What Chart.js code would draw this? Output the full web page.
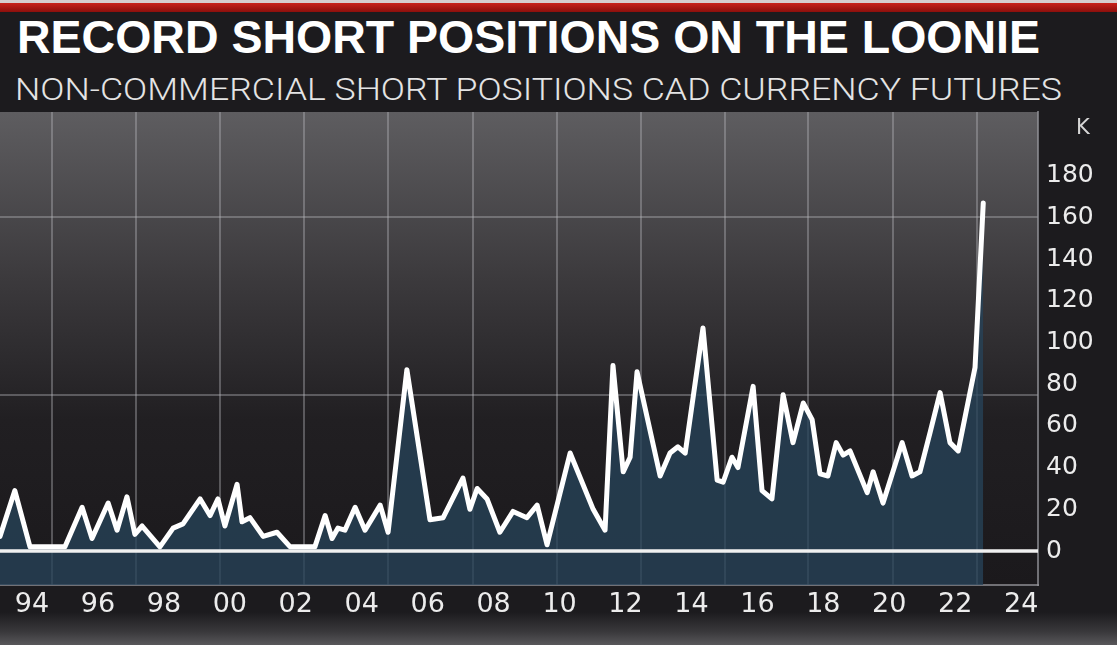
<!DOCTYPE html>
<html><head><meta charset="utf-8">
<script src="https://cdn.jsdelivr.net/npm/chart.js@4.4.1/dist/chart.umd.min.js"></script>
<style>
html,body{margin:0;padding:0;background:#1c1b1e;width:1117px;height:645px;overflow:hidden;}
#wrap{position:relative;width:1117px;height:645px;background:linear-gradient(to bottom,#1c1b1e 0,#1c1b1e 612px,#3a393c 632px,#58575a 645px);}
#topbar{position:absolute;left:0;top:0;width:1117px;height:4px;background:#d6cfcf;}
#redbar{position:absolute;left:0;top:3px;width:1117px;height:9px;background:linear-gradient(to bottom,#c9231b,#8c0f0c);}
#title{position:absolute;left:17px;top:13px;font-family:"Liberation Sans",Arial,sans-serif;font-weight:bold;font-size:47px;line-height:1;color:#fff;white-space:nowrap;transform-origin:0 0;}
#subtitle{position:absolute;left:15px;top:74px;font-family:Roboto,"Liberation Sans",sans-serif;font-weight:300;font-size:31px;line-height:1;color:#e4e4e4;white-space:nowrap;transform-origin:0 0;}
#k{position:absolute;left:1076px;top:117px;font-family:"DejaVu Sans",sans-serif;font-size:21px;line-height:1;color:#d6d6d6;z-index:2;}
canvas{position:absolute;left:0;top:0;z-index:1;}
</style>
</head>
<body>
<div id="wrap">
  <div id="topbar"></div>
  <div id="redbar"></div>
  <span id="title">RECORD SHORT POSITIONS ON THE LOONIE</span>
  <span id="subtitle">NON-COMMERCIAL SHORT POSITIONS CAD CURRENCY FUTURES</span>
  <canvas id="c" width="1117" height="645"></canvas>
  <span id="k">K</span>
</div>
<script>
// ---- data ----
const years = [1993.03,1993.48,1993.94,1995.00,1995.52,1995.82,1996.31,1996.58,1996.88,1997.12,1997.34,1997.88,
  1998.28,1998.58,1999.10,1999.40,1999.64,1999.85,2000.22,2000.37,2000.61,2001.01,2001.43,2001.83,2002.58,2002.89,
  2003.10,2003.28,2003.49,2003.80,2004.10,2004.56,2004.80,2005.37,2006.07,2006.47,2007.07,2007.28,2007.50,2007.80,
  2008.19,2008.59,2009.01,2009.32,2009.62,2010.32,2011.02,2011.38,2011.62,2011.93,2012.14,2012.35,2013.05,2013.35,
  2013.59,2013.81,2014.35,2014.78,2014.96,2015.23,2015.41,2015.87,2016.14,2016.44,2016.78,2017.08,2017.39,2017.66,
  2017.90,2018.14,2018.39,2018.60,2018.81,2019.33,2019.51,2019.81,2020.39,2020.69,2020.93,2021.24,2021.54,2021.84,
  2022.09,2022.60,2022.85];
const shortPositions = [7,29,2,2,21,6,23,10,26,8,12,2,
  11,13,25,17,25,12,32,14,16,7,9,2,2,17,
  6,11,10,21,10,22,9,87,15,16,35,20,30,25,
  9,19,16,22,3,47,20,10,89,38,45,86,36,47,
  50,47,107,34,33,45,40,79,29,25,75,52,71,63,
  37,36,52,46,48,28,38,23,52,36,38,57,76,52,
  48,88,167];
const xTickYears = [1994,1996,1998,2000,2002,2004,2006,2008,2010,2012,2014,2016,2018,2020,2022,2024];
const yTickValues = [0,20,40,60,80,100,120,140,160,180];
const xGridYears = [1994.61,1997.15,1999.70,2002.25,2004.80,2007.38,2009.92,2012.47,2015.02,2017.54,2020.11,2022.66];
const yGridValues = [75,160];
const xMin = 1993.03, xMax = 2024.51;
const yMin = -16.3, yMax = 210.6;

// ---- fit headline widths ----
function fit(id, w){const el=document.getElementById(id);const r=el.getBoundingClientRect().width;el.style.transform='scaleX('+(w/r)+')';}
fit('title',1023);
fit('subtitle',1047);

const gridColor = 'rgba(185,185,190,0.38)';
const bgPlugin = {
  id:'plotBg',
  beforeDraw(chart){
    const {ctx, chartArea:{left,top,right,bottom}} = chart;
    const g = ctx.createLinearGradient(0,top,0,bottom);
    g.addColorStop(0,'#5e5d60');
    g.addColorStop(0.35,'#3c3a3d');
    g.addColorStop(0.65,'#211f22');
    g.addColorStop(1,'#1b191c');
    ctx.save(); ctx.fillStyle=g; ctx.fillRect(left,top,right-left,bottom-top); ctx.restore();
  }
};

const series = years.map((y,i)=>({x:y,y:shortPositions[i]}));
const xFont = {family:'"DejaVu Sans", sans-serif', size:27};
const yFont = {family:'"DejaVu Sans", sans-serif', size:25};

new Chart(document.getElementById('c'),{
  type:'line',
  data:{datasets:[
    {label:'zero', data:[{x:xMin,y:0},{x:xMax,y:0}], borderColor:'#f0f0f0', borderWidth:3.5, pointRadius:0, fill:false, order:0},
    {label:'Short positions', data:series, borderColor:'#ffffff', borderWidth:5, borderJoinStyle:'round', borderCapStyle:'round',
     pointRadius:0, tension:0, fill:'start', backgroundColor:'rgba(38,67,88,0.78)', order:1}
  ]},
  options:{
    responsive:false, animation:false, devicePixelRatio:1,
    layout:{padding:{top:112,left:0,right:0,bottom:0}},
    plugins:{legend:{display:false}, tooltip:{enabled:false}},
    scales:{
      x:{type:'linear', position:'bottom', min:xMin, max:xMax,
        afterBuildTicks:s=>{s.ticks = xTickYears.map(v=>({value:v}));},
        afterFit:s=>{s.height=60;},
        ticks:{autoSkip:false, maxRotation:0, padding:4, color:'#ececec', font:xFont, callback:v=>String(v).slice(2)},
        grid:{display:false, drawTicks:false},
        border:{display:true, color:'rgba(150,150,155,0.7)', width:2}},
      xg:{type:'linear', position:'top', min:xMin, max:xMax,
        afterBuildTicks:s=>{s.ticks = xGridYears.map(v=>({value:v}));},
        afterFit:s=>{s.height=0;},
        ticks:{display:false}, grid:{color:gridColor, lineWidth:2, drawTicks:false}, border:{display:false}},
      y:{type:'linear', position:'right', min:yMin, max:yMax,
        afterBuildTicks:s=>{s.ticks = yTickValues.map(v=>({value:v}));},
        afterFit:s=>{s.width=79;},
        ticks:{padding:8, color:'#ececec', font:yFont},
        grid:{display:false, drawTicks:false},
        border:{display:true, color:'rgba(150,150,155,0.7)', width:2}},
      yg:{type:'linear', position:'left', min:yMin, max:yMax,
        afterBuildTicks:s=>{s.ticks = yGridValues.map(v=>({value:v}));},
        afterFit:s=>{s.width=0;},
        ticks:{display:false}, grid:{color:gridColor, lineWidth:2, drawTicks:false}, border:{display:false}}
    }
  },
  plugins:[bgPlugin]
});
</script>
</body></html>
